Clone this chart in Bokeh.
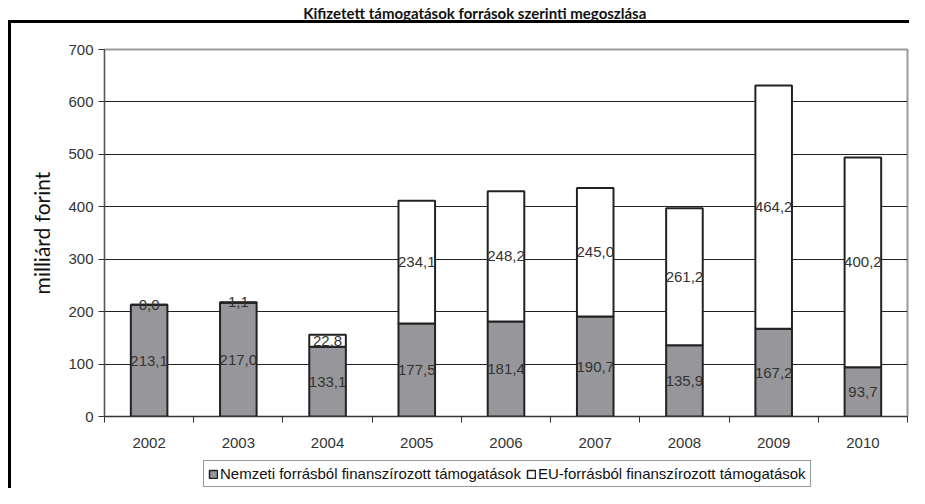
import numpy as np
from bokeh.plotting import figure
from bokeh.layouts import column
from bokeh.models import ColumnDataSource, Legend, LegendItem, FixedTicker, Range1d, LinearAxis
from bokeh.core.properties import value
from bokeh.embed import file_html
from bokeh.resources import INLINE

# ---- data ----
years = ["2002", "2003", "2004", "2005", "2006", "2007", "2008", "2009", "2010"]
national = [213.1, 217.0, 133.1, 177.5, 181.4, 190.7, 135.9, 167.2, 93.7]
eu_funds = [0.0, 1.1, 22.8, 234.1, 248.2, 245.0, 261.2, 464.2, 400.2]
series_names = ["Nemzeti forrásból finanszírozott támogatások",
                "EU-forrásból finanszírozott támogatások"]
y_ticks = [0, 100, 200, 300, 400, 500, 600, 700]
title_text = "Kifizetett támogatások források szerinti megoszlása"
y_label = "milliárd forint"


def fmt(v):
    return f"{v:.1f}".replace(".", ",")


xs = list(range(1, len(years) + 1))
tops = [n + e for n, e in zip(national, eu_funds)]

src = ColumnDataSource(dict(
    x=xs, nat=national, eu=eu_funds, tot=tops,
    nat_mid=[n / 2 for n in national],
    eu_mid=[n + e / 2 for n, e in zip(national, eu_funds)],
    nat_lab=[fmt(v) for v in national],
    eu_lab=[fmt(v) for v in eu_funds],
))

FONT = "Liberation Sans"
TXT = "#333333"
NAT_FILL = "#97979b"
EDGE = "#222222"

p = figure(width=909, height=456, output_backend="svg", toolbar_location=None,
           x_range=Range1d(0.5, len(years) + 0.5), y_range=Range1d(y_ticks[0], y_ticks[-1]),
           min_border_left=104, min_border_right=2, min_border_top=46, min_border_bottom=40)
p.background_fill_color = "white"
p.border_fill_color = None
p.outline_line_color = "#9a9a9a"
p.outline_line_width = 2

bar_w = 0.41
r_nat = p.vbar(x="x", bottom=0, top="nat", width=bar_w, source=src,
               fill_color=NAT_FILL, line_color=EDGE, line_width=2)
r_eu = p.vbar(x="x", bottom="nat", top="tot", width=bar_w, source=src,
              fill_color="white", line_color=EDGE, line_width=2)

for ycol, tcol in (("nat_mid", "nat_lab"), ("eu_mid", "eu_lab")):
    p.text(x="x", y=ycol, text=tcol, source=src, text_align="center",
           text_baseline="middle", text_font=value(FONT), text_font_size="15px",
           text_color=TXT)

# title, drawn as the single label of an axis above the plot
title_pos = 4.65
title_axis = LinearAxis(ticker=FixedTicker(ticks=[title_pos]),
                        major_label_overrides={title_pos: title_text},
                        axis_line_color=None, major_tick_line_color=None,
                        major_tick_out=0, major_tick_in=0, minor_tick_line_color=None,
                        major_label_standoff=28, major_label_text_font="Lato",
                        major_label_text_font_style="bold", major_label_text_font_size="15px",
                        major_label_text_color="#111111")
p.add_layout(title_axis, "above")

# x axis: labels at the bar centres, tick marks between categories
xa = p.below[0]
xa.ticker = FixedTicker(ticks=xs, minor_ticks=[i + 0.5 for i in range(len(years) + 1)])
xa.major_label_overrides = {x: y for x, y in zip(xs, years)}
xa.major_tick_line_color = None
xa.major_tick_out = 0
xa.major_tick_in = 0
xa.minor_tick_in = 0
xa.minor_tick_out = 6
xa.minor_tick_line_color = "#333333"
xa.axis_line_color = "#333333"
xa.major_label_standoff = 15
xa.major_label_text_font = FONT
xa.major_label_text_font_size = "15px"
xa.major_label_text_color = TXT

ya = p.left[0]
ya.ticker = FixedTicker(ticks=y_ticks)
ya.major_tick_in = 0
ya.major_tick_out = 6
ya.major_tick_line_color = "#333333"
ya.minor_tick_line_color = None
ya.axis_line_color = "#555555"
ya.major_label_standoff = 5
ya.major_label_text_font = FONT
ya.major_label_text_font_size = "15px"
ya.major_label_text_color = TXT
ya.axis_label = y_label
ya.axis_label_text_font = "Lato"
ya.axis_label_text_font_style = "normal"
ya.axis_label_text_font_size = "21px"
ya.axis_label_text_color = "#111111"
ya.axis_label_standoff = 11

p.xgrid.visible = False
p.ygrid.ticker = FixedTicker(ticks=y_ticks[1:-1])
p.ygrid.grid_line_color = "#222222"
p.ygrid.grid_line_width = 1

# legend strip below the chart (its frame is aligned with the chart's frame)
pl = figure(width=909, height=32, output_backend="svg", toolbar_location=None,
            x_range=Range1d(0, 1), y_range=Range1d(0, 1), x_axis_type=None, y_axis_type=None,
            min_border_left=0, min_border_right=0, min_border_top=0, min_border_bottom=0)
pl.grid.visible = False
pl.outline_line_color = None
pl.background_fill_color = None
pl.border_fill_color = None
# swatch-only renderers: their single bar has no drawable coordinates
empty = np.array([np.nan])
l_nat = pl.vbar(x=empty, bottom=empty, top=empty, width=bar_w, fill_color=NAT_FILL,
                line_color=EDGE, line_width=1.5)
l_eu = pl.vbar(x=empty, bottom=empty, top=empty, width=bar_w, fill_color="white",
               line_color=EDGE, line_width=1.5)
legend = Legend(items=[LegendItem(label=series_names[0], renderers=[l_nat]),
                       LegendItem(label=series_names[1], renderers=[l_eu])],
                orientation="horizontal", location=(99, 1),
                glyph_width=10, glyph_height=10, label_standoff=2, spacing=5,
                padding=4, margin=0, label_height=17,
                label_text_font=FONT, label_text_font_size="15px", label_text_color="#111111",
                border_line_color="#333333", border_line_width=1.5,
                background_fill_color="white", background_fill_alpha=1)
pl.add_layout(legend)

layout = column(p, pl, spacing=0)
# outer chart-area border (left and top edges), drawn behind the transparent canvases
layout.styles = {"background": "linear-gradient(#000,#000) 8px 20px / 3px 100% no-repeat, "
                               "linear-gradient(#000,#000) 8px 20px / 100% 3px no-repeat, #ffffff"}

open("out.html", "w").write(file_html(layout, INLINE))
